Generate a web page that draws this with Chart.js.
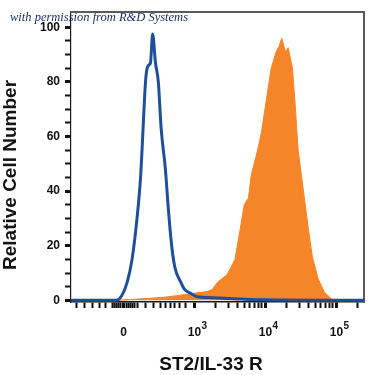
<!DOCTYPE html>
<html>
<head>
<meta charset="utf-8">
<script src="https://cdn.jsdelivr.net/npm/chart.js@4.4.1/dist/chart.umd.min.js"></script>
<style>
  html, body { margin: 0; padding: 0; background: #fff; }
  #wrap { position: relative; width: 375px; height: 375px; }
  canvas { position: absolute; left: 0; top: 0; }
  .txt { position: absolute; white-space: nowrap; font-family: "Liberation Sans", Arial, sans-serif; font-weight: bold; color: #111; }
  #note { position: absolute; white-space: nowrap; left: 10px; top: 10px; font: italic 12.5px "Liberation Serif", serif; color: #1c2c5c; }
  #xtitle { left: 211px; top: 364px; font-size: 19px; transform: translate(-50%, -50%); }
  #ytitle { left: 10px; top: 175px; font-size: 19px; transform: translate(-50%, -50%) rotate(-90deg); }
</style>
</head>
<body>
<div id="wrap">
  <canvas id="histChart" width="375" height="375"></canvas>
  <div id="note">with permission from R&amp;D Systems</div>
  <div class="txt" id="xtitle">ST2/IL-33 R</div>
  <div class="txt" id="ytitle">Relative Cell Number</div>
</div>
<script>
// x er i "dekade"-enheder på den biexponentielle akse (2 = 0, 3 = 10^3 osv.)
// isotype-kontrol (blå linje)
const isoX = [1.26, 1.90, 1.97, 2.05, 2.12, 2.19, 2.24, 2.27, 2.30, 2.32, 2.35, 2.38, 2.41, 2.45, 2.49, 2.53, 2.59, 2.63, 2.67, 2.72, 2.81, 2.86, 2.95, 3.04, 3.25, 3.66, 4.00, 5.39];
const isoY = [0, 0, 1.5, 6.5, 15, 30, 45, 60, 76, 83, 86, 87, 97.5, 87, 80, 63, 48, 34, 22, 12.5, 6.5, 4, 2.5, 1.3, 1, 0.5, 0.2, 0];

// ST2/IL-33 R farvning (orange fyld)
const st2X = [1.84, 2.08, 2.35, 2.59, 2.77, 2.90, 3.04, 3.18, 3.25, 3.32, 3.46, 3.57, 3.63, 3.70, 3.76, 3.80, 3.87, 3.94, 4.01, 4.08, 4.15, 4.19, 4.23, 4.26, 4.28, 4.32, 4.38, 4.42, 4.46, 4.53, 4.60, 4.66, 4.74, 4.83, 4.93, 5.00];
const st2Y = [0, 0.3, 0.7, 1.2, 1.8, 2.2, 2.8, 3.2, 4, 6.5, 9.5, 15, 24, 35, 37.5, 46, 53, 61, 73, 85, 91, 93, 96, 93, 91, 92.5, 85, 71, 55, 41, 27, 16, 8, 3, 0.5, 0];

// akse-ticks
const xTicks = [1.34, 1.45, 1.56, 1.66, 1.75,
  1.84, 1.87, 1.90, 1.93, 1.96, 2.00, 2.04, 2.07, 2.10, 2.13, 2.16, 2.19,
  2.31, 2.42, 2.52, 2.59, 2.66, 2.72, 2.79, 2.88,
  3.00, 3.30, 3.48, 3.60, 3.70, 3.78, 3.85, 3.90, 3.95,
  4.00, 4.30, 4.48, 4.60, 4.70, 4.78, 4.85, 4.90, 4.95,
  5.00, 5.30];
const xMajor = [2, 3, 4, 5];
const xMajorLabels = ['0', '10', '10', '10'];
const xExponents = ['', '3', '4', '5'];
const yTicks = [0, 5, 10, 15, 20, 25, 30, 35, 40, 45, 50, 55, 60, 65, 70, 75, 80, 85, 90, 95, 100];
const yLabels = [0, 20, 40, 60, 80, 100];

const fontFamily = '"Liberation Sans", Arial, sans-serif';
const tickFont = { family: fontFamily, size: 12, weight: 'bold' };

const toPoints = (xs, ys) => xs.map((x, i) => ({ x, y: ys[i] }));

// Hævet eksponent ved 10-tallene på x-aksen
const exponentPlugin = {
  id: 'exponents',
  afterDraw(chart) {
    const sx = chart.scales.x;
    const c = chart.ctx;
    c.save();
    c.font = 'bold 10px ' + fontFamily;
    c.fillStyle = '#111';
    c.textAlign = 'left';
    c.textBaseline = 'middle';
    xMajor.forEach((v, i) => {
      if (!xExponents[i]) return;
      c.fillText(xExponents[i], sx.getPixelForValue(v) + 7, sx.top + 24);
    });
    c.restore();
  }
};

new Chart(document.getElementById('histChart').getContext('2d'), {
  type: 'line',
  data: {
    datasets: [
      {
        label: 'Isotype',
        data: toPoints(isoX, isoY),
        borderColor: '#1f4f98',
        borderWidth: 3,
        pointRadius: 0,
        fill: false,
        cubicInterpolationMode: 'monotone',
        order: 0
      },
      {
        label: 'ST2/IL-33 R',
        data: toPoints(st2X, st2Y),
        borderColor: '#f6852a',
        backgroundColor: '#f6852a',
        borderWidth: 1,
        pointRadius: 0,
        fill: 'origin',
        tension: 0,
        order: 1
      }
    ]
  },
  options: {
    responsive: false,
    animation: false,
    layout: { padding: { top: 6, right: 5, left: 0, bottom: 0 } },
    plugins: { legend: { display: false }, tooltip: { enabled: false } },
    scales: {
      x: {
        type: 'linear',
        min: 1.26,
        max: 5.39,
        afterBuildTicks: s => { s.ticks = xTicks.map(v => ({ value: v })); },
        afterFit: s => { s.height = 73; },
        border: { display: true, color: '#1a1a1a', width: 1.5 },
        grid: {
          drawOnChartArea: false,
          tickLength: 6,
          tickWidth: c => (xMajor.includes(c.tick && c.tick.value) ? 3 : 2),
          tickColor: '#111'
        },
        ticks: {
          autoSkip: false,
          maxRotation: 0,
          padding: 17,
          color: '#111',
          font: tickFont,
          callback: v => {
            const i = xMajor.indexOf(v);
            return i >= 0 ? xMajorLabels[i] : '';
          }
        }
      },
      y: {
        min: -0.6,
        max: 105.5,
        afterBuildTicks: s => { s.ticks = yTicks.map(v => ({ value: v })); },
        afterFit: s => { s.width = 71; },
        border: { display: true, color: '#1a1a1a', width: 1.2 },
        grid: {
          drawOnChartArea: false,
          tickLength: 6,
          tickWidth: c => (yLabels.includes(c.tick && c.tick.value) ? 3 : 2),
          tickColor: '#111'
        },
        ticks: {
          autoSkip: false,
          padding: 5,
          color: '#111',
          font: tickFont,
          callback: v => (yLabels.includes(v) ? String(v) : '')
        }
      },
      x2: {
        type: 'linear',
        position: 'top',
        afterFit: s => { s.height = 0; },
        border: { display: true, color: '#5a5a5a', width: 2 },
        grid: { drawOnChartArea: false, drawTicks: false },
        ticks: { display: false }
      },
      y2: {
        type: 'linear',
        position: 'right',
        afterFit: s => { s.width = 0; },
        border: { display: true, color: '#5a5a5a', width: 2 },
        grid: { drawOnChartArea: false, drawTicks: false },
        ticks: { display: false }
      }
    }
  },
  plugins: [exponentPlugin]
});
</script>
</body>
</html>
